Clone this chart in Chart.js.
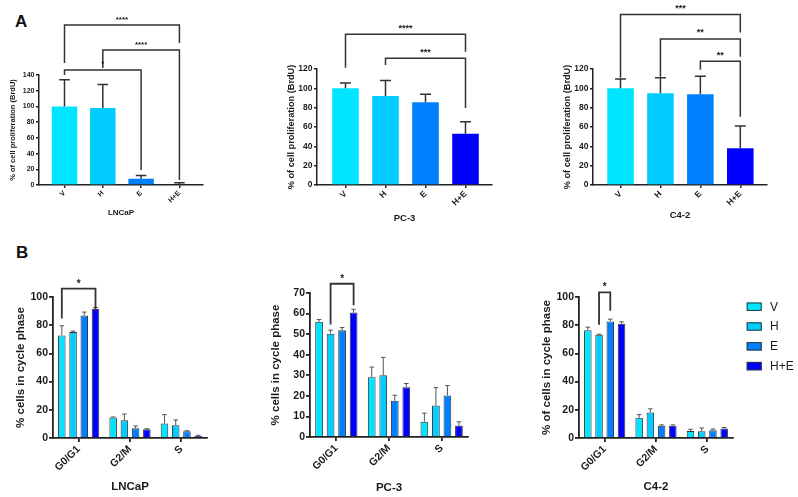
<!DOCTYPE html>
<html><head><meta charset="utf-8">
<script src="https://cdn.jsdelivr.net/npm/chart.js@4.4.1/dist/chart.umd.min.js"></script>
<style>
html,body{margin:0;padding:0;background:#fff;width:798px;height:497px;overflow:hidden;position:relative;font-family:"Liberation Sans",Arial,sans-serif}
canvas{position:absolute}
.lbl{position:absolute;font-weight:bold;font-size:17px;line-height:17px;color:#111}
</style></head><body>
<div class="lbl" style="left:15px;top:13px">A</div>
<div class="lbl" style="left:16px;top:244px">B</div>
<canvas id="a1"></canvas><canvas id="a2"></canvas><canvas id="a3"></canvas>
<canvas id="b1"></canvas><canvas id="b2"></canvas><canvas id="b3"></canvas>
<script>
// ---------- DATA ----------
const treatments = ['V', 'H', 'E', 'H+E'];
const phases = ['G0/G1', 'G2/M', 'S'];
const cellLines = ['LNCaP', 'PC-3', 'C4-2'];

// Panel A: % of cell proliferation (BrdU), mean and error (SD)
const brduLNCaP = [100, 98, 8, 1];
const brduLNCaPErr = [34, 30, 4, 2];
const brduPC3 = [100, 92, 85.5, 53];
const brduPC3Err = [5.5, 16, 8.3, 12.5];
const brduC42 = [100, 95, 94, 38];
const brduC42Err = [9.7, 16, 18.4, 23];

// Panel A significance: [from bar, to bar, bracket top, left leg end, right leg end, label] (value units)
const sigLNCaP = [[0, 3, 203.6, 155.3, 180.7, '****'], [1, 3, 171.8, 148.9, 6.4, '****'], [0, 2, 146.4, 140, 19.1, '*']];
const sigPC3 = [[0, 3, 155.9, 121.3, 137.9, '****'], [1, 3, 131.1, 124.1, 79.7, '***']];
const sigC42 = [[0, 3, 176.3, 111, 157.7, '***'], [1, 3, 151.1, 112, 132.8, '**'], [2, 3, 127.9, 119.3, 70.5, '**']];

// Panel B: % cells in cycle phase per treatment across phases [G0/G1, G2/M, S]
const cycleLNCaPV = [72.7, 14.5, 10.2];
const cycleLNCaPH = [75.1, 12.6, 9.0];
const cycleLNCaPE = [86.9, 6.9, 4.7];
const cycleLNCaPHE = [91.7, 6.2, 1.4];
const cycleLNCaPVErr = [6.9, 0.4, 6.4];
const cycleLNCaPHErr = [0.7, 4.4, 3.8];
const cycleLNCaPEErr = [2.4, 1.6, 0.5];
const cycleLNCaPHEErr = [0.9, 0.4, 0.5];

const cyclePC3V = [56, 29, 7.4];
const cyclePC3H = [50.2, 30, 15.3];
const cyclePC3E = [51.9, 17.6, 20.2];
const cyclePC3HE = [60.5, 24.2, 5.6];
const cyclePC3VErr = [1.1, 5, 4.2];
const cyclePC3HErr = [1.7, 8.7, 8.7];
const cyclePC3EErr = [1.3, 2.7, 4.8];
const cyclePC3HEErr = [1.6, 1.8, 1.8];

const cycleC42V = [76.5, 14.3, 5];
const cycleC42H = [73.2, 18, 4.8];
const cycleC42E = [82.7, 8.6, 5.5];
const cycleC42HE = [81, 8.6, 6.7];
const cycleC42VErr = [2.1, 2.3, 1.2];
const cycleC42HErr = [0.4, 2.7, 2.3];
const cycleC42EErr = [1.6, 0.7, 0.9];
const cycleC42HEErr = [1.4, 0.7, 0.7];

// Panel B significance: [phase, from treatment, to treatment, top, left end, right end, label]
const sigCycleLNCaP = [[0, 0, 3, 105.9, 84.8, 90.5, '*']];
const sigCyclePC3 = [[0, 1, 3, 74.5, 54.7, 64, '*']];
const sigCycleC42 = [[0, 1, 2, 103.3, 80.3, 90.3, '*']];

// ---------- STYLE / LAYOUT ----------
const barColors = ['#00E5FF', '#00CCFF', '#0080FF', '#0000FF'];
const FONT = '"Liberation Sans", Arial, sans-serif';
const INK = '#1a1a1a';
Chart.defaults.font.family = FONT;
Chart.defaults.color = INK;

function errorPlugin(errs, color, width, cap) {
  return {
    id: 'errorBars',
    afterDatasetsDraw(chart) {
      const ctx = chart.ctx, y = chart.scales.y;
      chart.data.datasets.forEach((ds, di) => {
        const e = errs[di];
        chart.getDatasetMeta(di).data.forEach((bar, i) => {
          const raw = ds.data[i];
          const v = typeof raw === 'object' ? raw.y : raw;
          const base = y.getPixelForValue(v), top = y.getPixelForValue(v + e[i]);
          ctx.save();
          ctx.strokeStyle = color; ctx.lineWidth = width;
          ctx.beginPath();
          ctx.moveTo(bar.x, base); ctx.lineTo(bar.x, top);
          ctx.moveTo(bar.x - cap, top); ctx.lineTo(bar.x + cap, top);
          ctx.stroke();
          ctx.restore();
        });
      });
    }
  };
}

function bracketPlugin(items, grouped, fontSize, lineWidth, gap) {
  return {
    id: 'sigBrackets',
    afterDatasetsDraw(chart) {
      const ctx = chart.ctx, y = chart.scales.y;
      const xOf = (ds, idx) => chart.getDatasetMeta(ds).data[idx].x;
      ctx.save();
      ctx.strokeStyle = '#333'; ctx.lineWidth = lineWidth; ctx.fillStyle = INK;
      ctx.font = 'bold ' + fontSize + 'px ' + FONT;
      ctx.textAlign = 'center'; ctx.textBaseline = 'alphabetic';
      items.forEach(it => {
        let x1, x2, rest;
        if (grouped) { x1 = xOf(it[1], it[0]); x2 = xOf(it[2], it[0]); rest = it.slice(3); }
        else { x1 = xOf(0, it[0]); x2 = xOf(0, it[1]); rest = it.slice(2); }
        const [top, le, re, label] = rest;
        const yt = y.getPixelForValue(top), yl = y.getPixelForValue(le), yr = y.getPixelForValue(re);
        ctx.beginPath();
        ctx.moveTo(x1, yl); ctx.lineTo(x1, yt); ctx.lineTo(x2, yt); ctx.lineTo(x2, yr);
        ctx.stroke();
        ctx.fillText(label, (x1 + x2) / 2, yt - gap);
      });
      ctx.restore();
    }
  };
}

const legendPlugin = {
  id: 'sideLegend',
  afterDraw(chart) {
    const ctx = chart.ctx;
    const x0 = 206.7, y0 = 66.7, row = 19.8;
    ctx.save();
    chart.data.datasets.forEach((ds, i) => {
      const cy = y0 + i * row;
      ctx.fillStyle = ds.backgroundColor;
      ctx.fillRect(x0, cy - 4.2, 15, 8.4);
      ctx.strokeStyle = '#333'; ctx.lineWidth = 1;
      ctx.strokeRect(x0 + 0.5, cy - 3.7, 14, 7.4);
      ctx.fillStyle = INK; ctx.font = '12px ' + FONT;
      ctx.textAlign = 'left'; ctx.textBaseline = 'middle';
      ctx.fillText(ds.label, x0 + 23.3, cy + 0.5);
    });
    ctx.restore();
  }
};

function place(id, c) {
  const el = document.getElementById(id);
  el.width = c[2]; el.height = c[3];
  el.style.left = c[0] + 'px'; el.style.top = c[1] + 'px';
  el.style.width = c[2] + 'px'; el.style.height = c[3] + 'px';
  return el;
}

function axisCommon(lw, tickLen) {
  return {
    grid: { display: true, offset: false, drawOnChartArea: false, drawTicks: true, tickLength: tickLen, color: '#222', lineWidth: lw },
    border: { display: true, color: '#222', width: lw }
  };
}

function buildA(L, title, values, errs, sig) {
  const [cl, ct, cw, ch] = L.canvas;
  const [al, at, ar, ab] = L.area;
  const el = place(L.id, L.canvas);
  const c = axisCommon(1.5, 3);
  new Chart(el, {
    type: 'bar',
    data: { datasets: [{ data: values.map((v, i) => ({ x: i, y: v })), backgroundColor: barColors, borderWidth: 0, barPercentage: 0.665, categoryPercentage: 1 }] },
    options: {
      responsive: false, animation: false, devicePixelRatio: 1,
      layout: { padding: { left: 0, top: at - ct, right: cl + cw - ar, bottom: 0 } },
      plugins: { legend: { display: false }, tooltip: { enabled: false } },
      scales: {
        x: {
          type: 'linear', min: L.xMin, max: L.xMax, offset: false, bounds: 'data',
          afterBuildTicks: s => { s.ticks = treatments.map((_, i) => ({ value: i })); },
          afterFit: s => { s.height = ct + ch - ab; },
          ticks: { autoSkip: false, minRotation: 45, maxRotation: 45, padding: 1, color: INK, font: { size: L.fTick, weight: 'bold' }, callback: v => treatments[v] ?? '' },
          grid: c.grid, border: c.border,
          title: { display: true, text: title, color: INK, font: { size: L.fXTitle, weight: 'bold' }, padding: { top: 0, bottom: ct + ch - L.xTitleY - L.fXTitle * 0.6 } }
        },
        y: {
          min: 0, max: L.yMax,
          afterFit: s => { s.width = al - cl; },
          ticks: { stepSize: 20, padding: 1.5, color: INK, font: { size: L.fTick, weight: 'bold' } },
          grid: c.grid, border: c.border,
          title: { display: true, text: '% of cell proliferation (BrdU)', color: INK, font: { size: L.fYTitle, weight: 'bold' }, padding: { top: L.yTitleX - cl - L.fYTitle * 0.6, bottom: 0 } }
        }
      }
    },
    plugins: [errorPlugin([errs], '#333', 1.5, L.cap), bracketPlugin(sig, false, L.fSig, 1.5, 3.5)]
  });
}

function buildB(L, title, yTitle, series, errs, sig, extra) {
  const [cl, ct, cw, ch] = L.canvas;
  const [al, at, ar, ab] = L.area;
  const el = place(L.id, L.canvas);
  const c = axisCommon(1.8, 4);
  new Chart(el, {
    type: 'bar',
    data: {
      labels: phases,
      datasets: treatments.map((t, k) => ({ label: t, data: series[k], backgroundColor: barColors[k], borderColor: '#333', borderWidth: 1, barPercentage: 0.67, categoryPercentage: 0.875 }))
    },
    options: {
      responsive: false, animation: false, devicePixelRatio: 1,
      layout: { padding: { left: 0, top: at - ct, right: cl + cw - ar, bottom: 0 } },
      plugins: { legend: { display: false }, tooltip: { enabled: false } },
      scales: {
        x: {
          type: 'category', offset: true,
          afterFit: s => { s.height = ct + ch - ab; },
          ticks: { autoSkip: false, minRotation: 45, maxRotation: 45, padding: 1, color: INK, font: { size: 10.5, weight: 'bold' } },
          grid: c.grid, border: c.border,
          title: { display: true, text: title, color: INK, font: { size: 11.5, weight: 'bold' }, padding: { top: 0, bottom: ct + ch - L.xTitleY - 11.5 * 0.6 } }
        },
        y: {
          min: 0, max: L.yMax,
          afterFit: s => { s.width = al - cl; },
          ticks: { stepSize: L.yStep, padding: 1, color: INK, font: { size: 10.5, weight: 'bold' } },
          grid: c.grid, border: c.border,
          title: { display: true, text: yTitle, color: INK, font: { size: 11.5, weight: 'bold' }, padding: { top: L.yTitleX - cl - 11.5 * 0.6, bottom: 0 } }
        }
      }
    },
    plugins: [errorPlugin(errs, '#555', 1, 2.3), bracketPlugin(sig, true, 10, 1.8, 2)].concat(extra || [])
  });
}

buildA({ id: 'a1', canvas: [0, 0, 212, 228], area: [39, 75, 203, 185], xMin: -0.666, xMax: 3.616, yMax: 140, yTitleX: 12.5, xTitleY: 213, fTick: 7, fYTitle: 7.5, fXTitle: 8, fSig: 8, cap: 5.3 },
  cellLines[0], brduLNCaP, brduLNCaPErr, sigLNCaP);
buildA({ id: 'a2', canvas: [280, 0, 220, 228], area: [317, 69, 492, 185], xMin: -0.7125, xMax: 3.6625, yMax: 120, yTitleX: 291.7, xTitleY: 218, fTick: 8.5, fYTitle: 9.2, fXTitle: 9.5, fSig: 9, cap: 5.5 },
  cellLines[1], brduPC3, brduPC3Err, sigPC3);
buildA({ id: 'a3', canvas: [555, 0, 225, 228], area: [593, 69, 767, 185], xMin: -0.689, xMax: 3.669, yMax: 120, yTitleX: 567, xTitleY: 215, fTick: 8.5, fYTitle: 9.2, fXTitle: 9.5, fSig: 9, cap: 5.5 },
  cellLines[2], brduC42, brduC42Err, sigC42);

buildB({ id: 'b1', canvas: [0, 240, 215, 257], area: [53, 297, 207, 438], yMax: 100, yStep: 20, yTitleX: 20.7, xTitleY: 487 },
  cellLines[0], '% cells in cycle phase',
  [cycleLNCaPV, cycleLNCaPH, cycleLNCaPE, cycleLNCaPHE],
  [cycleLNCaPVErr, cycleLNCaPHErr, cycleLNCaPEErr, cycleLNCaPHEErr], sigCycleLNCaP);
buildB({ id: 'b2', canvas: [265, 240, 210, 257], area: [310, 293, 468, 437], yMax: 70, yStep: 10, yTitleX: 275.5, xTitleY: 488 },
  cellLines[1], '% cells in cycle phase',
  [cyclePC3V, cyclePC3H, cyclePC3E, cyclePC3HE],
  [cyclePC3VErr, cyclePC3HErr, cyclePC3EErr, cyclePC3HEErr], sigCyclePC3);
buildB({ id: 'b3', canvas: [540, 240, 258, 257], area: [579, 297, 733, 438], yMax: 100, yStep: 20, yTitleX: 546.7, xTitleY: 487 },
  cellLines[2], '% of cells in cycle phase',
  [cycleC42V, cycleC42H, cycleC42E, cycleC42HE],
  [cycleC42VErr, cycleC42HErr, cycleC42EErr, cycleC42HEErr], sigCycleC42, [legendPlugin]);
</script>
</body></html>
